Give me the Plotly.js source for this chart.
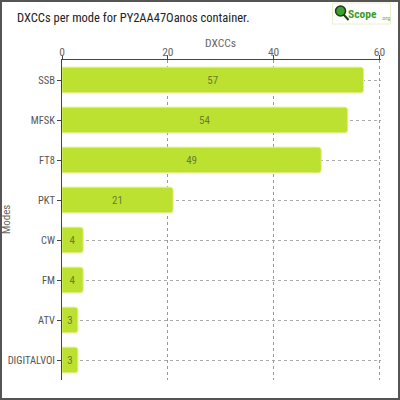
<!DOCTYPE html>
<html><head><meta charset="utf-8">
<script src="https://cdn.plot.ly/plotly-3.0.1.min.js"></script>
<style>
html,body{margin:0;padding:0;background:#fff;}
#wrap{position:relative;width:400px;height:400px;}
#frame{position:absolute;left:0;top:0;width:400px;height:400px;box-sizing:border-box;border:2px solid #555;pointer-events:none;}
</style></head>
<body>
<div id="wrap"><div id="chart" style="width:400px;height:400px;"></div><div id="frame"></div></div>
<script>
const modes = ["SSB","MFSK","FT8","PKT","CW","FM","ATV","DIGITALVOI"];
const dxccs = [57,54,49,21,4,4,3,3];
const xTicks = [0,20,40,60];

const FONT = "Roboto Condensed, Roboto, sans-serif";
const L=62, R=381.5, T=60, B=380;
const px = x => (x-L)/(R-L);
const py = y => (B-y)/(B-T);

const trace = {
  type:'bar', orientation:'h',
  y: modes, x: dxccs,
  text: dxccs.map(String),
  textposition:'inside', insidetextanchor:'middle',
  textfont:{family:FONT,size:11,color:'#6b7d35'},
  marker:{color:'#bde130', line:{color:'#dcf27c',width:1}, cornerradius:3},
  hoverinfo:'none'
};

const layout = {
  width:400, height:400,
  margin:{l:L, r:400-R, t:T, b:400-B},
  paper_bgcolor:'#fff', plot_bgcolor:'#fff',
  showlegend:false,
  bargap:0.36,
  font:{family:FONT,color:'#555'},
  xaxis:{
    side:'top', range:[0,60.3], tickvals:xTicks, ticktext:xTicks.map(String),
    showgrid:true, gridcolor:'#999', griddash:'3px,3px', gridwidth:1,
    showline:true, linecolor:'#444', linewidth:1,
    ticks:'outside', ticklen:4, tickcolor:'#444', ticklabelstandoff:-6,
    tickfont:{family:FONT,size:11.5,color:'#666'}, zeroline:false, fixedrange:true
  },
  yaxis:{
    categoryorder:'array', categoryarray:modes, autorange:'reversed',
    showgrid:true, gridcolor:'#aaa', griddash:'3px,3px', gridwidth:1,
    showline:true, linecolor:'#444', linewidth:1,
    ticks:'outside', ticklen:4, tickcolor:'#444',
    tickfont:{family:FONT,size:10.5,color:'#555'}, fixedrange:true
  },
  annotations:[
    {text:'DXCCs per mode for PY2AA47Oanos container.', xref:'paper', yref:'paper',
     x:px(15), y:py(18), xanchor:'left', yanchor:'middle', showarrow:false,
     font:{family:FONT,size:12.5,color:'#222'}},
    {text:'DXCCs', xref:'paper', yref:'paper', x:px(221), y:py(43), xanchor:'center', yanchor:'middle',
     showarrow:false, font:{family:FONT,size:11.5,color:'#666'}},
    {text:'Modes', xref:'paper', yref:'paper', x:px(6), y:0.5, xanchor:'center', yanchor:'middle',
     textangle:-90, showarrow:false, font:{family:FONT,size:11,color:'#666'}},
    {text:'<b>Scope</b>', xref:'paper', yref:'paper', x:px(346), y:py(14), xanchor:'left', yanchor:'middle',
     showarrow:false, font:{family:FONT,size:11.5,color:'#3f9a2a'}},
    {text:'.org', xref:'paper', yref:'paper', x:px(379), y:py(18), xanchor:'left', yanchor:'middle',
     showarrow:false, font:{family:FONT,size:6,color:'#6ab04a'}}
  ],
  shapes:[
    {type:'rect', xref:'paper', yref:'paper', x0:px(333), x1:px(391), y0:py(24), y1:py(3),
     line:{color:'#e8f0c8',width:1}, fillcolor:'rgba(255,255,255,0)', layer:'above'},
    {type:'circle', xref:'paper', yref:'paper', x0:px(336), x1:px(346), y0:py(16), y1:py(6),
     line:{color:'#1e3a14',width:1.5}, fillcolor:'#3aa030', layer:'above'},
    {type:'line', xref:'paper', yref:'paper', x0:px(344), x1:px(349), y0:py(14.5), y1:py(20),
     line:{color:'#1e3a14',width:2}, layer:'above'}
  ]
};

Plotly.newPlot('chart',[trace],layout,{displayModeBar:false,staticPlot:true});
</script>
</body></html>
